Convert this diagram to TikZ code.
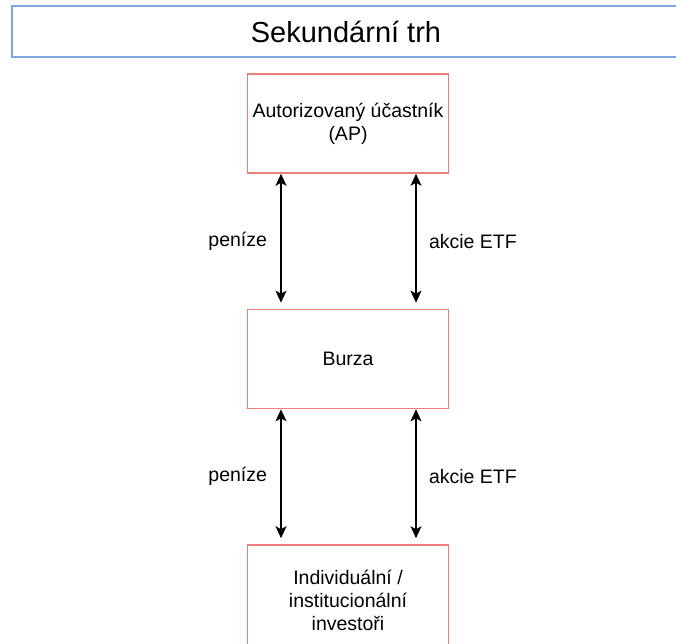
\documentclass[tikz,border=0pt]{standalone}
\usepackage{fontspec}
\setmainfont{Liberation Sans}
\usetikzlibrary{arrows.meta}
\definecolor{boxred}{HTML}{EE7E7B}
\definecolor{titleblue}{HTML}{7EA6E0}

\begin{document}
\begin{tikzpicture}[x=1pt,y=1pt,
    >={Stealth[length=12pt,width=11pt,inset=3pt]},
    box/.style={draw=boxred,line width=1.6pt,minimum width=201pt,minimum height=99pt,align=center,font=\fontsize{19.5}{23}\selectfont},
    flow/.style={<->,line width=1.4pt,shorten >=6pt},
    lbl/.style={font=\fontsize{19.5}{23}\selectfont}]
    \useasboundingbox (0,0) rectangle (676,643);
    \node[draw=titleblue,line width=1.6pt,minimum width=668pt,minimum height=51pt,font=\fontsize{29}{34}\selectfont] (title) at (346,611.5) {Sekundární trh};
    \node[box] (ap) at (348,519.5) {Autorizovaný účastník\\(AP)};
    \node[box] (burza) at (348,284) {Burza};
    \node[box,minimum height=110pt] (investori) at (348,43) {Individuální /\\institucionální\\investoři};
    \draw[flow] ([xshift=-67pt]ap.south) -- node[lbl,left=10pt] {peníze} ([xshift=-67pt]burza.north);
    \draw[flow] ([xshift=68pt]ap.south) -- node[lbl,right=9pt] {akcie ETF} ([xshift=68pt]burza.north);
    \draw[flow] ([xshift=-67pt]burza.south) -- node[lbl,left=10pt] {peníze} ([xshift=-67pt]investori.north);
    \draw[flow] ([xshift=68pt]burza.south) -- node[lbl,right=9pt] {akcie ETF} ([xshift=68pt]investori.north);
\end{tikzpicture}
\end{document}
